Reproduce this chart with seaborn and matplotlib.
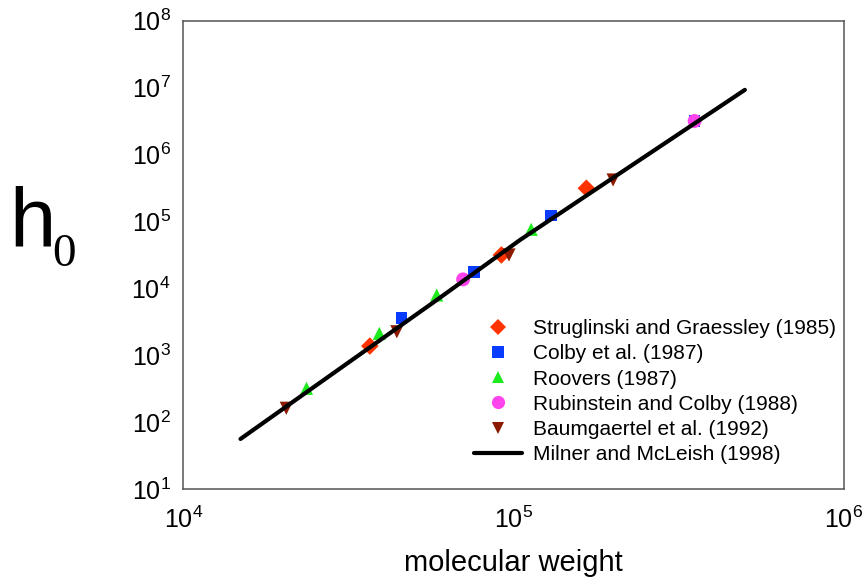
import numpy as np
import pandas as pd
import seaborn as sns
import matplotlib
matplotlib.use("Agg")
import matplotlib.pyplot as plt
from matplotlib.ticker import LogLocator, FuncFormatter, NullLocator
from matplotlib.lines import Line2D

# ---- data ----
strug_M = [36700, 91800, 166000]
strug_eta = [1370, 31500, 313000]

colby_M = [45800, 75900, 130000, 353000]
colby_eta = [3570, 17700, 122000, 3170000]

roovers_M = [23600, 39200, 58500, 113000]
roovers_eta = [320, 2120, 7940, 76200]

rubin_M = [70300, 353000]
rubin_eta = [13600, 3170000]

baum_M = [20500, 44300, 96800, 200000]
baum_eta = [161, 2240, 31500, 416000]

theory_M = [14900, 58500, 104500, 194000, 451000, 501000]
theory_eta = [56, 6680, 52700, 406000, 6530000, 9250000]

series_names = ["Struglinski and Graessley (1985)", "Colby et al. (1987)",
                "Roovers (1987)", "Rubinstein and Colby (1988)",
                "Baumgaertel et al. (1992)"]
line_name = "Milner and McLeish (1998)"
x_label = "molecular weight"

colors = ["#FF3300", "#0A3CFF", "#1EEB1E", "#FF44EE", "#8C1A00"]
markers = ["D", "s", "^", "o", "v"]
sizes = [80, 70, 90, 100, 90]

sns.set_theme(style="white")
plt.rcParams["font.family"] = ["Liberation Sans", "DejaVu Sans"]
plt.rcParams["mathtext.fontset"] = "custom"
plt.rcParams["mathtext.rm"] = "Liberation Sans"
plt.rcParams["mathtext.it"] = "Liberation Sans"
plt.rcParams["text.color"] = "black"
plt.rcParams["axes.labelcolor"] = "black"
plt.rcParams["xtick.labelcolor"] = "black"
plt.rcParams["ytick.labelcolor"] = "black"

frames = []
for name, M, eta in zip(series_names,
                        [strug_M, colby_M, roovers_M, rubin_M, baum_M],
                        [strug_eta, colby_eta, roovers_eta, rubin_eta, baum_eta]):
    frames.append(pd.DataFrame({"M": M, "eta": eta, "source": name}))
pts = pd.concat(frames, ignore_index=True)
line_df = pd.DataFrame({"M": theory_M, "eta": theory_eta})

fig = plt.figure(figsize=(8.65, 5.8), dpi=100)
ax = fig.add_axes([183.3 / 865, 1 - 489 / 580, (844 - 183.3) / 865, (489 - 20.7) / 580])

sns.lineplot(data=line_df, x="M", y="eta", ax=ax, color="black", lw=3,
             legend=False, zorder=3)
for name, c, m, s in zip(series_names, colors, markers, sizes):
    sub = pts[pts["source"] == name]
    sns.scatterplot(data=sub, x="M", y="eta", ax=ax, color=c, marker=m, s=s,
                    edgecolor="none", linewidth=0, legend=False, zorder=2)

ax.set_xscale("log")
ax.set_yscale("log")
ax.set_xlim(1e4, 1e6)
ax.set_ylim(1e1, 1e8)

fmt = FuncFormatter(lambda v, p: r"$\mathregular{10^{%d}}$" % int(round(np.log10(v))))
ax.xaxis.set_major_locator(LogLocator(base=10, numticks=10))
ax.xaxis.set_minor_locator(LogLocator(base=10, subs=np.arange(2, 10), numticks=20))
ax.yaxis.set_major_locator(LogLocator(base=10, numticks=10))
ax.yaxis.set_minor_locator(NullLocator())
ax.xaxis.set_major_formatter(fmt)
ax.yaxis.set_major_formatter(fmt)
ax.xaxis.set_minor_formatter(plt.NullFormatter())

ax.tick_params(axis="both", which="major", direction="in", length=6, width=1,
               color="#555555", labelsize=18, labelcolor="black")
ax.tick_params(axis="y", which="major", pad=9)
ax.tick_params(axis="x", which="major", pad=13)
ax.tick_params(axis="x", which="minor", direction="in", length=3.5, width=1,
               color="#555555")
ax.tick_params(top=False, right=False)

for sp in ax.spines.values():
    sp.set_color("#555555")
    sp.set_linewidth(1.1)
    sp.set_visible(True)

ax.set_xlabel(x_label, fontsize=21, labelpad=11, color="black")
ax.set_ylabel("")
ax.grid(False)

# y-axis label: eta (drawn as h) with subscript 0
fig.text(9 / 865, 1 - 247 / 580, "h", fontsize=60, family="Liberation Sans",
         ha="left", va="baseline", color="black")
fig.text(52 / 865, 1 - 266 / 580, "0", fontsize=34, family="Liberation Serif",
         ha="left", va="baseline", color="black")

handles = [Line2D([], [], linestyle="none", marker=m, color=c,
                  markersize=np.sqrt(s) * 0.95, markeredgewidth=0)
           for c, m, s in zip(colors, markers, sizes)]
handles.append(Line2D([], [], color="black", lw=3))
labels = series_names + [line_name]
leg = ax.legend(handles, labels, loc="lower right", bbox_to_anchor=(1.0, 0.035),
                frameon=False, fontsize=15, handlelength=2.3, handletextpad=0.5,
                labelspacing=0.3, borderaxespad=0)
for t in leg.get_texts():
    t.set_color("black")

fig.savefig("out.png", dpi=100)
